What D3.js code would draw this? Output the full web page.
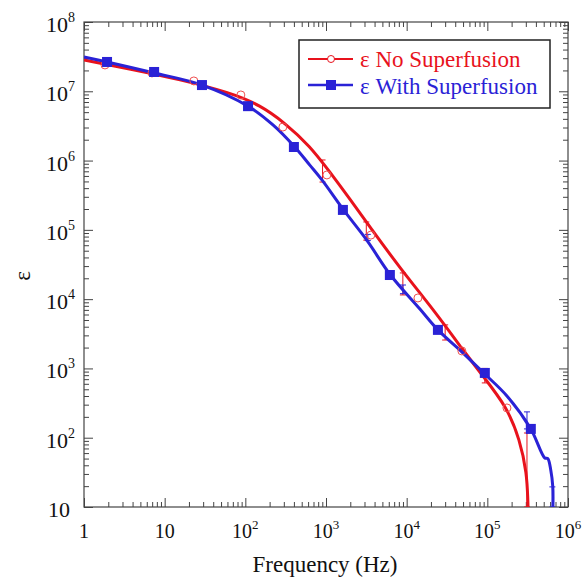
<!DOCTYPE html>
<html>
<head>
<meta charset="utf-8">
<script src="https://cdn.jsdelivr.net/npm/d3@7"></script>
<style>
  body { margin: 0; background: #fff; }
  text { font-family: "Liberation Serif", "Times New Roman", serif; }
</style>
</head>
<body>
<svg width="584" height="579"></svg>
<script>
// fitted curves [frequency, epsilon]
var redCurve = [[1,2.83e7],[3.72,2.1e7],[15.5,1.48e7],[64,9.6e6],[152,6.34e6],[310,3.49e6],[631,1.63e6],
  [1117,6.85e5],[1977,2.79e5],[3500,1.1e5],[8240,2.82e4],[23700,6.1e3],[49700,1.85e3],[87900,780],
  [175000,278],[253000,93],[309000,31],[318000,12],[320000,10],[320000,8]];
var blueCurve = [[1,3.13e7],[1.93,2.65e7],[7.4,1.84e7],[29,1.23e7],[108,6.1e6],[220,3.27e6],[410,1.57e6],
  [630,8.6e5],[890,5.25e5],[1650,1.94e5],[3200,7.1e4],[6300,2.23e4],[14600,7.2e3],[24400,3.6e3],
  [49700,1.68e3],[93000,830],[175000,400],[346000,134],[516000,51],[562000,50],[612000,34],
  [648000,19.5],[650000,10]];

// measured points
var redPoints = [[1.82,2.4e7],[6.96,1.84e7],[23,1.41e7],[88,8.85e6],[292,3.05e6],[1026,6.2e5],
  [3600,8.4e4],[13800,1.04e4],[48300,1.79e3],[175000,269]];
var bluePoints = [[1.93,2.65e7],[7.4,1.9e7],[29,1.23e7],[108,6.1e6],[400,1.57e6],[1620,1.94e5],
  [6190,2.23e4],[24400,3.6e3],[93100,861],[346000,134]];

// error bars [frequency, low, high]
var redErr = [[906,4.9e5,1.02e6],[3160,7.1e4,1.3e5],[8970,1.15e4,2.39e4],[30000,2.57e3,4.25e3],
  [93000,618,1000],[310000,10,117]];
var blueErr = [[3300,7.0e4,8.6e4],[9000,1.2e4,1.6e4],[310000,134,236],[640000,10,19.5]];

var xMajor = [1,1e1,1e2,1e3,1e4,1e5,1e6];
var xLabels = ['1','10','2','3','4','5','6'];
var yMajor = [1e1,1e2,1e3,1e4,1e5,1e6,1e7,1e8];
var yLabels = ['10','2','3','4','5','6','7','8'];
var legendNames = ['\u03b5 No Superfusion', '\u03b5 With Superfusion'];

var red = '#e8121c';
var blue = '#2a22d6';
var frame = '#444';

var svg = d3.select('svg');

var x = d3.scaleLog().domain([1,1e6]).range([84,568]);
var y = d3.scaleLog().domain([10,1e8]).range([507,22]);

//minor ticks 2..9 in every decade
function minors(lo, hi) {
  var out = [];
  for (var p = lo; p < hi; p++) {
    for (var m = 2; m < 10; m++) out.push(m * Math.pow(10,p));
  }
  return out;
}
var xMinor = minors(0,6);
var yMinor = minors(1,8);

svg.append('defs').append('clipPath').attr('id','plot')
  .append('rect').attr('x',84).attr('y',22).attr('width',484).attr('height',485);

//axes, all ticks pointing inward
function addAxis(axis, tr, vals, len) {
  var g = svg.append('g')
    .attr('transform', tr)
    .call(axis.tickValues(vals).tickSize(-len).tickFormat(''));
  g.select('.domain').remove();
  g.selectAll('line').attr('stroke', frame);
}
addAxis(d3.axisBottom(x), 'translate(0,507)', xMajor, 9);
addAxis(d3.axisBottom(x), 'translate(0,507)', xMinor, 5);
addAxis(d3.axisTop(x), 'translate(0,22)', xMajor, 9);
addAxis(d3.axisTop(x), 'translate(0,22)', xMinor, 5);
addAxis(d3.axisLeft(y), 'translate(84,0)', yMajor, 9);
addAxis(d3.axisLeft(y), 'translate(84,0)', yMinor, 5);
addAxis(d3.axisRight(y), 'translate(568,0)', yMajor, 9);
addAxis(d3.axisRight(y), 'translate(568,0)', yMinor, 5);

svg.append('rect')
  .attr('x',84).attr('y',22).attr('width',484).attr('height',485)
  .attr('fill','none').attr('stroke',frame).attr('stroke-width',1.2);

//tick labels with superscript powers
xMajor.forEach(function(v, i) {
  var t = svg.append('text')
    .attr('x', x(v)).attr('y', 538)
    .attr('text-anchor','middle').attr('font-size', 20).attr('fill','#111');
  if (i < 2) {
    t.text(xLabels[i]);
  } else {
    t.text('10');
    t.append('tspan').attr('font-size',13).attr('dy',-9).text(xLabels[i]);
  }
});
yMajor.forEach(function(v, i) {
  var t = svg.append('text')
    .attr('y', y(v) + 10).attr('font-size', 22).attr('fill','#111')
    .attr('text-anchor','end');
  if (i === 0) {
    t.attr('x', 70).text(yLabels[i]);
  } else {
    t.attr('x', 75).text('10');
    t.append('tspan').attr('font-size',14).attr('dy',-10).text(yLabels[i]);
  }
});

svg.append('text')
  .attr('x', 325).attr('y', 572)
  .attr('text-anchor','middle').attr('font-size',23).attr('fill','#111')
  .text('Frequency (Hz)');
svg.append('text')
  .attr('transform','translate(30,276) rotate(-90)')
  .attr('text-anchor','middle').attr('font-size',23).attr('fill','#111')
  .text('\u03b5');

var plot = svg.append('g').attr('clip-path','url(#plot)');

//red fit is smoothed, blue keeps its kink near the end
var redLine = d3.line()
  .x(function(d){ return x(d[0]); })
  .y(function(d){ return y(d[1]); })
  .curve(d3.curveBasis);
var blueLine = d3.line()
  .x(function(d){ return x(d[0]); })
  .y(function(d){ return y(d[1]); })
  .curve(d3.curveCatmullRom);

//error bars
function drawErr(data, color) {
  var g = plot.append('g').attr('stroke', color).attr('stroke-width', 1);
  data.forEach(function(d) {
    var cx = x(d[0]);
    g.append('line').attr('x1',cx).attr('x2',cx).attr('y1',y(d[1])).attr('y2',y(d[2]));
    g.append('line').attr('x1',cx-3).attr('x2',cx+3).attr('y1',y(d[1])).attr('y2',y(d[1]));
    g.append('line').attr('x1',cx-3).attr('x2',cx+3).attr('y1',y(d[2])).attr('y2',y(d[2]));
  });
}
drawErr(redErr, red);
drawErr(blueErr, blue);

plot.append('path').datum(redCurve)
  .attr('fill','none').attr('stroke',red).attr('stroke-width',3)
  .attr('d', redLine);
plot.append('path').datum(blueCurve)
  .attr('fill','none').attr('stroke',blue).attr('stroke-width',3)
  .attr('d', blueLine);

plot.selectAll('.redPt')
  .data(redPoints)
  .enter()
  .append('circle')
  .attr('class','redPt')
  .attr('cx', function(d){ return x(d[0]); })
  .attr('cy', function(d){ return y(d[1]); })
  .attr('r', 4)
  .attr('fill','none').attr('stroke', '#f05050').attr('stroke-width',1);

plot.selectAll('.bluePt')
  .data(bluePoints)
  .enter()
  .append('rect')
  .attr('class','bluePt')
  .attr('x', function(d){ return x(d[0]) - 5; })
  .attr('y', function(d){ return y(d[1]) - 5; })
  .attr('width', 10).attr('height', 10)
  .attr('fill', blue);

//legend
var leg = svg.append('g');
leg.append('rect')
  .attr('x',299).attr('y',40).attr('width',251).attr('height',68)
  .attr('fill','#fff').attr('stroke','#222').attr('stroke-width',1.5);
leg.append('line').attr('x1',308).attr('x2',353).attr('y1',59).attr('y2',59)
  .attr('stroke',red).attr('stroke-width',2);
leg.append('circle').attr('cx',331).attr('cy',59).attr('r',3.5)
  .attr('fill','#fff').attr('stroke',red).attr('stroke-width',1);
leg.append('line').attr('x1',308).attr('x2',353).attr('y1',85).attr('y2',85)
  .attr('stroke',blue).attr('stroke-width',2.5);
leg.append('rect').attr('x',326).attr('y',80).attr('width',10).attr('height',10)
  .attr('fill',blue);
leg.append('text').attr('x',360).attr('y',67).attr('font-size',23)
  .attr('fill',red).text(legendNames[0]);
leg.append('text').attr('x',360).attr('y',94).attr('font-size',23)
  .attr('fill',blue).text(legendNames[1]);
</script>
</body>
</html>
